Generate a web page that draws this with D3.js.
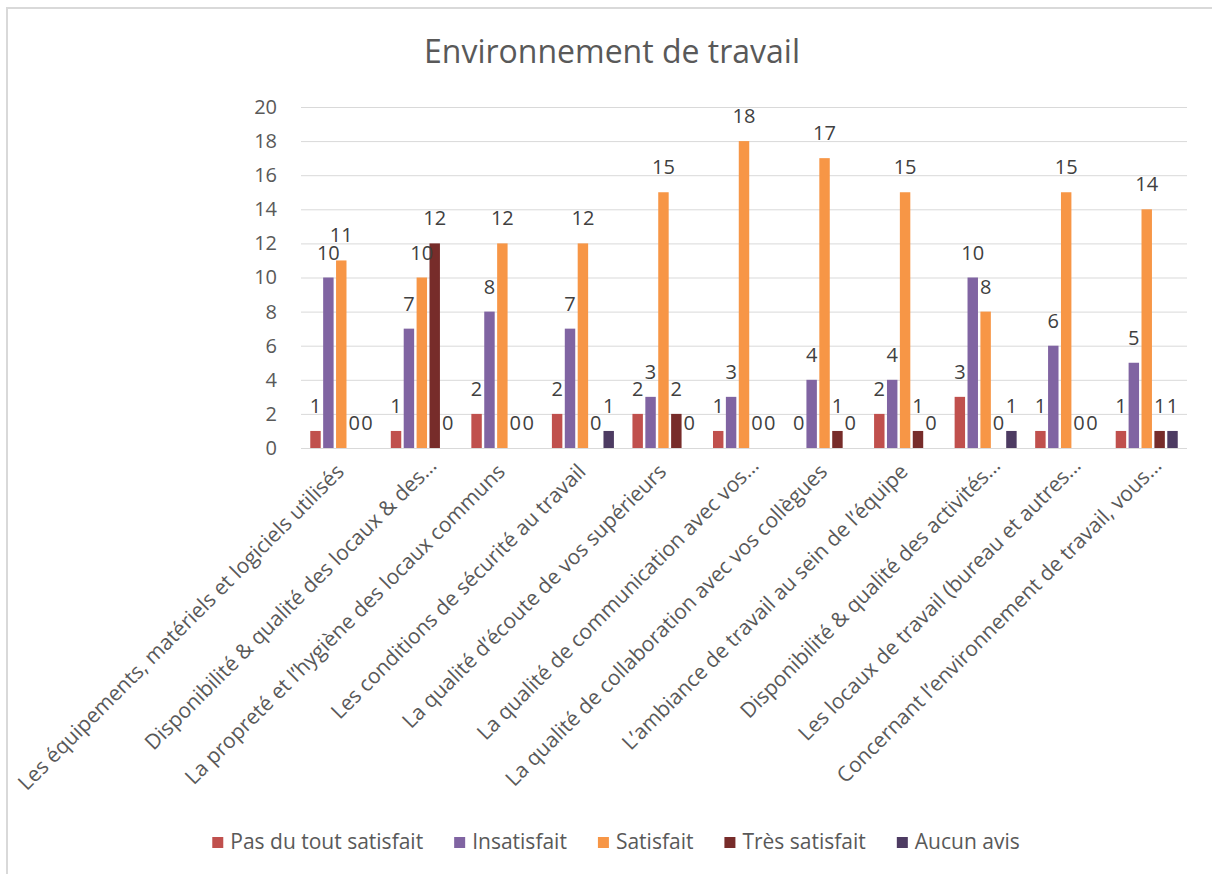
<html>
<head>
  <style>
    body { margin: 0; background: #fff; }
    svg text { font-family: "Open Sans", sans-serif; }
    svg .grid line { stroke: #D9D9D9; stroke-width: 1px; }
  </style>
</head>
<body>
  <div id="chart"></div>
  <script src="https://d3js.org/d3.v7.min.js"></script>
  <script>
    // categories (truncated as in the original chart)
    var categories = [
      "Les équipements, matériels et logiciels utilisés",
      "Disponibilité & qualité des locaux & des…",
      "La propreté et l’hygiène des locaux communs",
      "Les conditions de sécurité au travail",
      "La qualité d’écoute de vos supérieurs",
      "La qualité de communication avec vos…",
      "La qualité de collaboration avec vos collègues",
      "L’ambiance de travail au sein de l’équipe",
      "Disponibilité & qualité des activités…",
      "Les locaux de travail (bureau et autres…",
      "Concernant l’environnement de travail, vous…"
    ];

    var seriesNames = ["Pas du tout satisfait", "Insatisfait", "Satisfait", "Très satisfait", "Aucun avis"];
    var seriesColors = ["#C0504D", "#8064A2", "#F79646", "#772C2A", "#4D3B62"];

    var pasDuTout   = [1, 1, 2, 2, 2, 1, 0, 2, 3, 1, 1];
    var insatisfait = [10, 7, 8, 7, 3, 3, 4, 4, 10, 6, 5];
    var satisfait   = [11, 10, 12, 12, 15, 18, 17, 15, 8, 15, 14];
    var tresSatisf  = [0, 12, 0, 0, 2, 0, 1, 1, 0, 0, 1];
    var aucunAvis   = [0, 0, 0, 1, 0, 0, 0, 0, 1, 0, 1];

    var yTicks = [0, 2, 4, 6, 8, 10, 12, 14, 16, 18, 20];

    var seriesValues = [pasDuTout, insatisfait, satisfait, tresSatisf, aucunAvis];

    var W = 1212, H = 874;
    var plot = { left: 301, right: 1187, top: 107, bottom: 448 };

    var svg = d3.select("#chart")
      .append("svg")
        .attr("width", W)
        .attr("height", H);

    // chart border (only left and top visible in the crop)
    svg.append("rect")
      .attr("x", 7).attr("y", 8)
      .attr("width", W + 20).attr("height", H + 20)
      .attr("fill", "none")
      .attr("stroke", "#D9D9D9")
      .attr("stroke-width", 2);

    // title
    svg.append("text")
      .attr("x", 612)
      .attr("y", 63)
      .attr("text-anchor", "middle")
      .style("font-size", "32px")
      .style("fill", "#595959")
      .text("Environnement de travail");

    // scales
    var x0 = d3.scaleBand()
      .domain(categories)
      .range([plot.left, plot.right])
      .paddingInner(0.23)
      .paddingOuter(0.115);

    var x1 = d3.scaleBand()
      .domain(d3.range(seriesNames.length))
      .range([0, x0.bandwidth()])
      .paddingInner(0.19)
      .paddingOuter(0);

    var y = d3.scaleLinear()
      .domain([0, 20])
      .range([plot.bottom, plot.top]);

    // horizontal grid lines
    var grid = svg.append("g").classed("grid", true);
    grid.selectAll("line")
      .data(yTicks)
      .enter().append("line")
        .attr("x1", plot.left)
        .attr("x2", plot.right)
        .attr("y1", function (d) { return y(d) + 0.5; })
        .attr("y2", function (d) { return y(d) + 0.5; });

    // y axis labels
    var yAxis = d3.axisLeft(y)
      .tickValues(yTicks)
      .tickSize(0)
      .tickPadding(24);

    var ya = svg.append("g")
      .attr("transform", "translate(" + plot.left + ",0)")
      .call(yAxis);
    ya.select(".domain").remove();
    ya.selectAll(".tick text")
      .style("font-size", "20px")
      .style("font-family", "Open Sans, sans-serif")
      .style("fill", "#595959");

    // bars
    var groups = svg.selectAll("g.cat")
      .data(categories)
      .enter().append("g")
        .attr("class", "cat")
        .attr("transform", function (d) { return "translate(" + x0(d) + ",0)"; });

    groups.selectAll("rect")
      .data(function (d, i) {
        return seriesValues.map(function (vals, s) { return { s: s, v: vals[i] }; });
      })
      .enter().append("rect")
        .attr("x", function (d) { return x1(d.s); })
        .attr("width", x1.bandwidth())
        .attr("y", function (d) { return y(d.v); })
        .attr("height", function (d) { return y(0) - y(d.v); })
        .attr("fill", function (d) { return seriesColors[d.s]; });

    // data labels
    groups.selectAll("text.val")
      .data(function (d, i) {
        return seriesValues.map(function (vals, s) { return { s: s, v: vals[i] }; });
      })
      .enter().append("text")
        .attr("class", "val")
        .attr("x", function (d) { return x1(d.s) + x1.bandwidth() / 2; })
        .attr("y", function (d) { return y(d.v) - 18; })
        .attr("text-anchor", "middle")
        .style("font-size", "20px")
        .style("fill", "#404040")
        .text(function (d) { return d.v; });

    // category labels, rotated
    svg.append("g").selectAll("text")
      .data(categories)
      .enter().append("text")
        .attr("transform", function (d) {
          var cx = x0(d) + x0.bandwidth() / 2;
          var cut = d.slice(-1) === "…";
          var bx = cut ? cx + 16 : cx + 4;
          var by = cut ? 467 : 473;
          return "translate(" + bx + "," + by + ") rotate(-45)";
        })
        .attr("text-anchor", "end")
        .style("font-size", "21px")
        .style("fill", "#595959")
        .text(function (d) { return d; });

    // legend
    var legend = svg.append("g");
    var items = legend.selectAll("g")
      .data(seriesNames)
      .enter().append("g");

    items.append("rect")
      .attr("width", 11).attr("height", 11)
      .attr("y", -12)
      .attr("fill", function (d, i) { return seriesColors[i]; });

    items.append("text")
      .attr("x", 18)
      .style("font-size", "21px")
      .style("fill", "#595959")
      .text(function (d) { return d; });

    var pos = 0, offsets = [];
    items.each(function () {
      offsets.push(pos);
      pos += this.getBBox().width + 31;
    });
    pos -= 31;
    var legendX = 616 - pos / 2;
    items.attr("transform", function (d, i) { return "translate(" + offsets[i] + ",0)"; });
    legend.attr("transform", "translate(" + legendX + ",849)");
  </script>
</body>
</html>
